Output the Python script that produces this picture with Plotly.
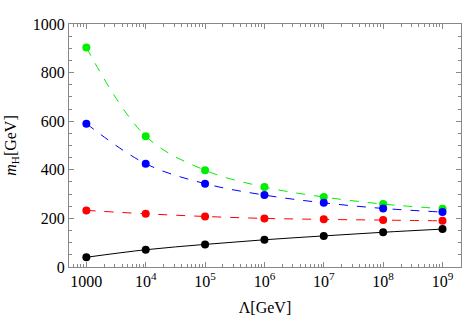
import plotly.graph_objects as go
import numpy as np

lam = [1e3, 1e4, 1e5, 1e6, 1e7, 1e8, 1e9]
green = [903, 538, 398, 329, 288, 259, 240]
blue = [590, 425, 343, 296, 264, 241, 226]
red = [233, 219, 208, 200, 196, 193, 190]
black = [40, 71, 93, 112, 128, 143, 156]

xtick_vals = [1e3, 1e4, 1e5, 1e6, 1e7, 1e8, 1e9]
xtick_text = ["1000", "10<sup>4</sup>", "10<sup>5</sup>", "10<sup>6</sup>",
              "10<sup>7</sup>", "10<sup>8</sup>", "10<sup>9</sup>"]

fig = go.Figure()
series = [(green, "#00ee00", "dash"), (blue, "#0000ff", "dash"),
          (red, "#ff0000", "dash"), (black, "#000000", "solid")]
for ys, col, dash in series:
    fig.add_trace(go.Scatter(
        x=lam, y=ys, mode="lines+markers",
        line=dict(color=col, width=1, dash=dash, shape="spline"),
        marker=dict(color=col, size=8),
        showlegend=False, cliponaxis=False))

minor_x = [m * 10**e for e in range(2, 10) for m in range(2, 10)]
minor_x = [v for v in minor_x if 500 < v < 2.1e9]

font = "Liberation Serif"
fig.update_layout(
    width=463, height=319,
    margin=dict(l=69, r=2, t=24, b=52, autoexpand=False),
    paper_bgcolor="white", plot_bgcolor="white",
    font=dict(family=font, size=16, color="black"),
    xaxis=dict(type="log", range=[np.log10(510), np.log10(2.05e9)],
               tickvals=xtick_vals, ticktext=xtick_text,
               ticks="inside", ticklen=5, tickcolor="#888", tickwidth=1,
               showline=True, linecolor="#888", linewidth=1, mirror="allticks",
               showgrid=False, zeroline=False, automargin=False,
               minor=dict(tickvals=minor_x, ticks="inside", ticklen=3,
                          tickcolor="#888", showgrid=False),
               title=dict(text="Λ[GeV]", standoff=12, font=dict(family=font, size=16)),
               tickfont=dict(family=font, size=16)),
    yaxis=dict(range=[0, 1000], tickvals=[0, 200, 400, 600, 800, 1000],
               ticks="inside", ticklen=5, tickcolor="#888", tickwidth=1,
               showline=True, linecolor="#888", linewidth=1, mirror="allticks",
               showgrid=False, zeroline=False, automargin=False,
               minor=dict(dtick=50, ticks="inside", ticklen=3,
                          tickcolor="#888", showgrid=False),
               title=dict(text="<i>m</i><sub>H</sub>[GeV]", standoff=12,
                          font=dict(family=font, size=16)),
               tickfont=dict(family=font, size=16)),
)

fig.write_html("out.html", config={"displayModeBar": False},
               post_script="document.body.style.margin='0';document.body.style.padding='0';")
